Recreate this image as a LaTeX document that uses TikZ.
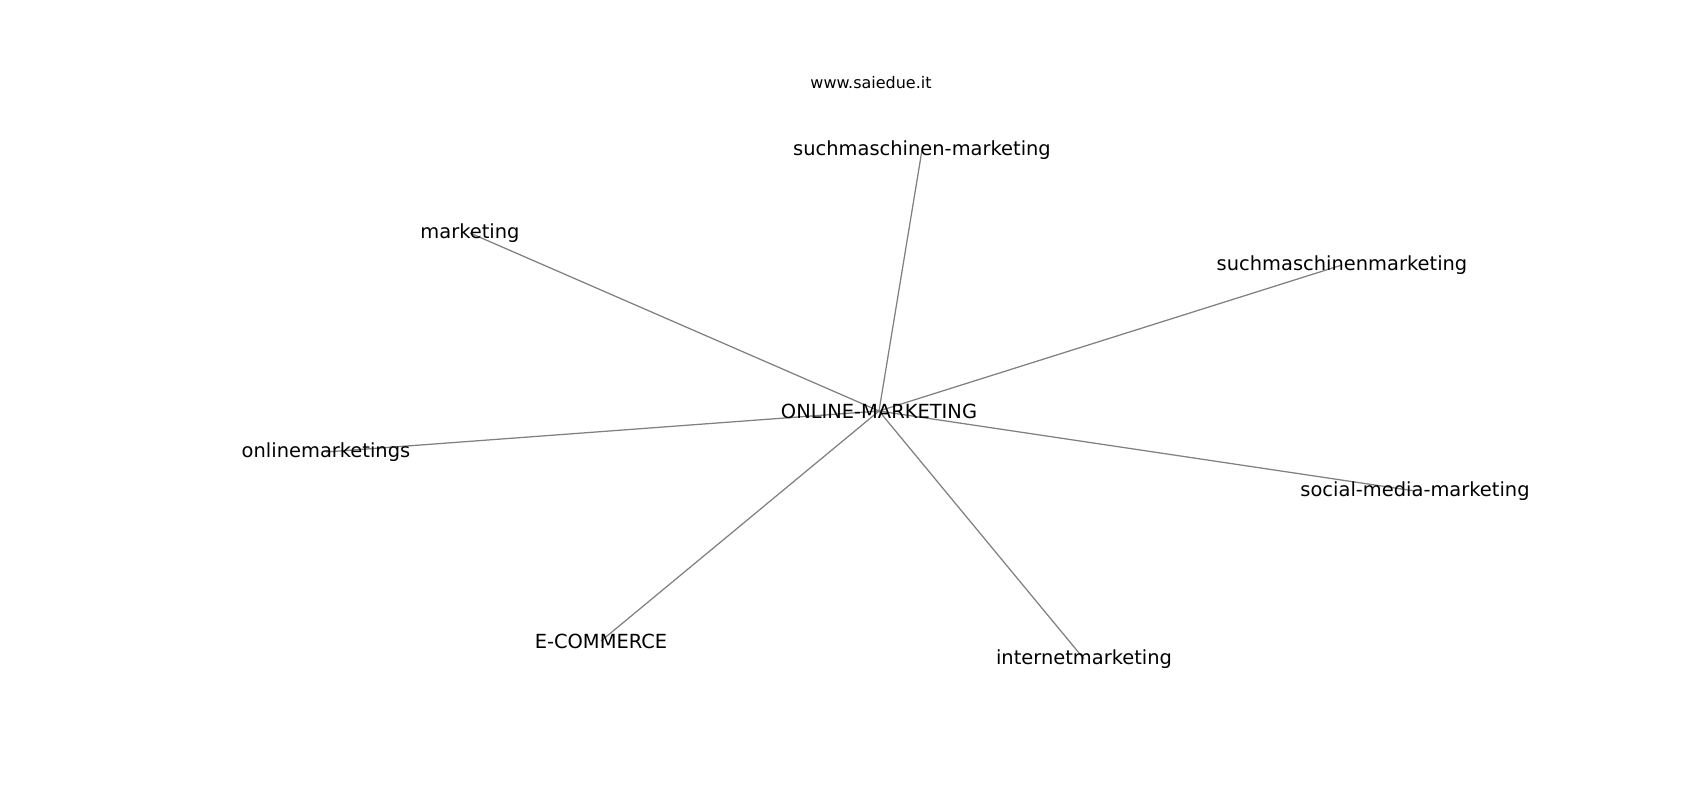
\documentclass[tikz,border=0pt]{standalone}
\usepackage{fontspec}
\setmainfont{DejaVu Sans}
\usepackage{tikz}
\usetikzlibrary{backgrounds}

\begin{document}
\begin{tikzpicture}
  [
    x=0.72pt, y=-0.72pt,
    term/.style =
      {inner sep=0pt, align=center, font=\fontsize{14}{16}\selectfont},
    site/.style =
      {inner sep=0pt, align=center, font=\fontsize{11.5}{14}\selectfont},
    link/.style =
      {draw=black!50, line width=0.9pt}
  ]
  \useasboundingbox (0,0) rectangle (1700,800);

  \node [site] at ( 871, 83)  (w) {www.saiedue.it};
  \node [term] at ( 879,411)  (c) {ONLINE-MARKETING};
  \node [term] at ( 922,150)  (h) {suchmaschinen-marketing};
  \node [term] at ( 470,233)  (m) {marketing};
  \node [term] at (1342,265)  (s) {suchmaschinenmarketing};
  \node [term] at ( 326,452)  (o) {onlinemarketings};
  \node [term] at (1415,491)  (p) {social-media-marketing};
  \node [term] at ( 601,641)  (e) {E-COMMERCE};
  \node [term] at (1084,659)  (i) {internetmarketing};

  \begin{scope}[on background layer]
    \draw[link] (c.center) -- (h.center);
    \draw[link] (c.center) -- (m.center);
    \draw[link] (c.center) -- (s.center);
    \draw[link] (c.center) -- (o.center);
    \draw[link] (c.center) -- (p.center);
    \draw[link] (c.center) -- (e.center);
    \draw[link] (c.center) -- (i.center);
  \end{scope}

\end{tikzpicture}
\end{document}
